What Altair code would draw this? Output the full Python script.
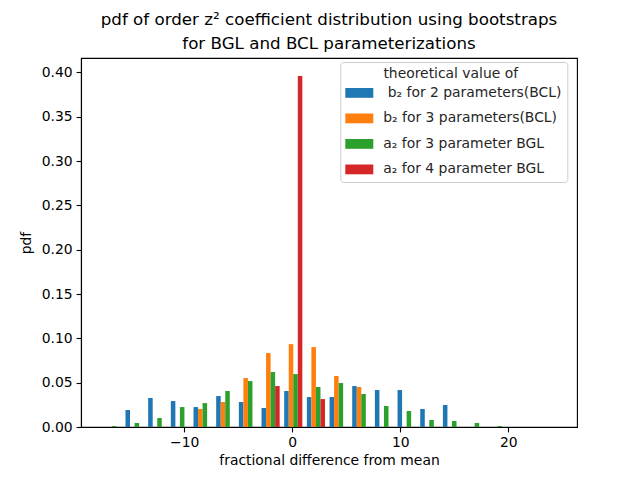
import altair as alt
import pandas as pd

# histogram bin layout
bin_start = -17.75
bin_width = 2.099
n_bins = 20

legend_title = "\u200b" + "\u00a0" * 8 + "\u2009" + "theoretical value of"
series_names = [
    "\u200b\u00a0b₂ for 2 parameters(BCL)",
    "b₂ for 3 parameters(BCL)",
    "a₂ for 3 parameter BGL",
    "a₂ for 4 parameter BGL",
]
colors = ["#1f77b4", "#ff7f0e", "#2ca02c", "#d62728"]

blue = [0, 0.0192, 0.0327, 0.0293, 0.0225, 0.0349, 0.0282, 0.0214, 0.0406, 0.0338,
        0.0338, 0.0462, 0.0417, 0.0417, 0.0203, 0.0248, 0, 0, 0, 0]
orange = [0, 0, 0, 0, 0.0203, 0.0282, 0.0552, 0.0834, 0.0935, 0.0901,
          0.0575, 0.0451, 0, 0, 0, 0, 0, 0, 0, 0]
green = [0.0011, 0.0045, 0.0101, 0.0225, 0.0270, 0.0406, 0.0518, 0.0620, 0.0597, 0.0451,
         0.0496, 0.0372, 0.0237, 0.0180, 0.0079, 0.0068, 0.0045, 0.0011, 0, 0]
red = [0, 0, 0, 0, 0, 0, 0, 0.0462, 0.396, 0.0315,
       0, 0, 0, 0, 0, 0, 0, 0, 0, 0]

x_ticks = [-10, 0, 10, 20]
y_ticks = [0.0, 0.05, 0.10, 0.15, 0.20, 0.25, 0.30, 0.35, 0.40]

rows = []
for si, vals in enumerate([blue, orange, green, red]):
    for k, v in enumerate(vals):
        if v <= 0:
            continue
        left = bin_start + k * bin_width
        x0 = left + (0.1 + 0.2 * si) * bin_width
        rows.append({"series": series_names[si], "order": si, "x0": x0,
                     "x1": x0 + 0.2 * bin_width, "pdf": v})
df = pd.DataFrame(rows)

FONT = "DejaVu Sans"

chart = alt.Chart(df).mark_rect().encode(
    x=alt.X("x0:Q", scale=alt.Scale(domain=[-19.56, 26.36], nice=False, zero=False),
            axis=alt.Axis(values=x_ticks, title="fractional difference from mean", format="d")),
    x2="x1:Q",
    y=alt.Y("pdf:Q", scale=alt.Scale(domain=[0, 0.4163], nice=False),
            axis=alt.Axis(values=y_ticks, format=".2f", title="pdf")),
    y2=alt.datum(0),
    color=alt.Color("series:N",
                    scale=alt.Scale(domain=series_names, range=colors),
                    legend=alt.Legend(
                        title=legend_title, titleFont=FONT, titleFontSize=13.9,
                        titleFontWeight="normal", titleColor="#262626",
                        titlePadding=-2, titleAnchor="start", titleLimit=400,
                        orient="none", legendX=259.3, legendY=4,
                        symbolType="M-1,-0.35H1V0.35H-1Z", symbolSize=784,
                        symbolStrokeWidth=0, symbolOpacity=1,
                        labelFont=FONT, labelFontSize=13.9, labelColor="#262626",
                        labelOffset=10, rowPadding=4.5, padding=5,
                        strokeColor="#cccccc", fillColor="white", cornerRadius=3,
                        labelLimit=400)),
).properties(
    width=496, height=369,
    title=alt.Title(["pdf of order z² coefficient distribution using bootstraps",
                     "for BGL and BCL parameterizations"],
                    font=FONT, fontSize=16.7, fontWeight="normal", color="black",
                    anchor="middle", offset=5, lineHeight=24),
    autosize=alt.AutoSizeParams(type="none"),
    padding={"left": 73, "top": 50, "right": 40, "bottom": 40},
).configure_view(stroke="black", strokeWidth=1.1).configure_axis(
    labelFont=FONT, labelFontSize=13.9, labelColor="black",
    titleFont=FONT, titleFontSize=13.9, titleFontWeight="normal", titleColor="black",
    domainColor="black", domainWidth=1.1, tickColor="black", tickWidth=1.1, tickSize=4.9,
    labelPadding=4, grid=False,
).configure_axisX(titlePadding=4).configure_axisY(titlePadding=8)

chart.save("out.html", embed_options={"renderer": "svg", "actions": False})
